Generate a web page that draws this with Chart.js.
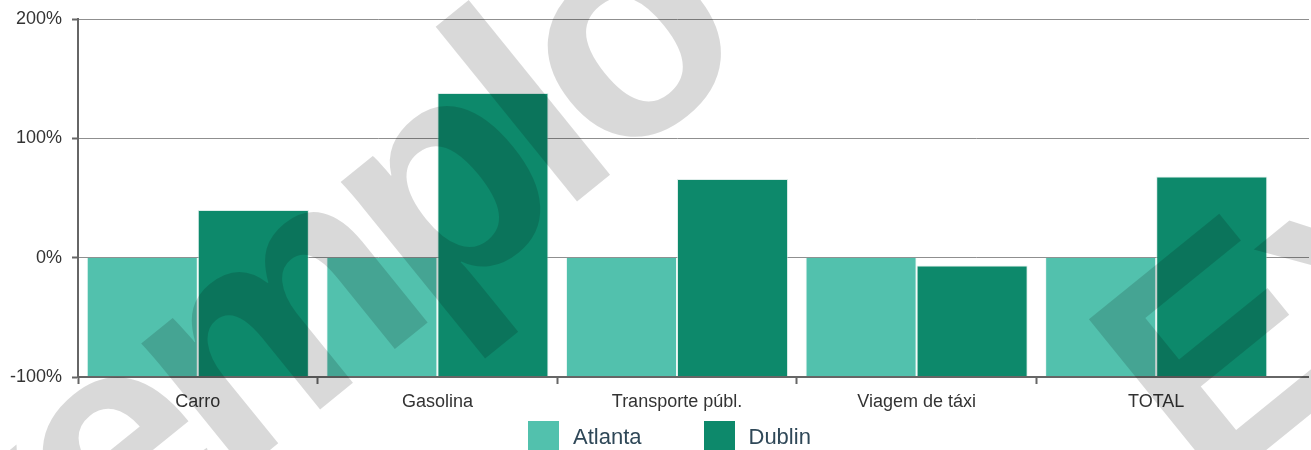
<!DOCTYPE html>
<html>
<head>
<meta charset="utf-8">
<script src="https://cdn.jsdelivr.net/npm/chart.js@4/dist/chart.umd.min.js"></script>
<style>
  html, body { margin: 0; padding: 0; background: #fff; width: 1311px; height: 450px; overflow: hidden; }
  #wrap { position: relative; width: 1311px; height: 450px; }
  #legend { position: absolute; left: 528px; top: 421px; display: flex; font-family: "Liberation Sans", Arial, sans-serif; font-size: 22px; color: #2f4858; }
  .item { display: flex; align-items: center; height: 31px; margin-right: 62px; }
  .box { width: 31px; height: 31px; margin-right: 14px; }
</style>
</head>
<body>
<div id="wrap">
  <canvas id="c"></canvas>
  <div id="legend"></div>
</div>
<script>
const categories = ['Carro', 'Gasolina', 'Transporte públ.', 'Viagem de táxi', 'TOTAL'];
const seriesNames = ['Atlanta', 'Dublin'];
const atlantaValues = [0, 0, 0, 0, 0];
const dublinValues = [40, 138, 66, -6.5, 68];
const yTickValues = [-100, 0, 100, 200];
const colors = ['#52c1ad', '#0d896b'];
const watermarkText = 'Exemplo';

function alignPx(p, w) { const h = w / 2; return Math.round(p - h) + h; }

const extendGrid = {
  id: 'extendGrid',
  beforeDatasetsDraw(chart) {
    const {ctx, chartArea, scales: {y}} = chart;
    ctx.save();
    ctx.strokeStyle = '#8f8f8f';
    ctx.lineWidth = 1;
    y.ticks.forEach(t => {
      if (t.value === y.min) return;
      const py = alignPx(y.getPixelForValue(t.value), 1);
      ctx.beginPath();
      ctx.moveTo(chartArea.right, py);
      ctx.lineTo(chart.width - 2, py);
      ctx.stroke();
    });
    ctx.strokeStyle = '#666';
    ctx.lineWidth = 2;
    const pb = alignPx(y.getPixelForValue(y.min), 2);
    ctx.beginPath();
    ctx.moveTo(chartArea.right, pb);
    ctx.lineTo(chart.width - 2, pb);
    ctx.stroke();
    ctx.restore();
  }
};

const watermark = {
  id: 'watermark',
  afterDraw(chart) {
    const ctx = chart.ctx;
    ctx.save();
    ctx.font = 'bold 310px "Liberation Sans", Arial, sans-serif';
    if ('letterSpacing' in ctx) ctx.letterSpacing = '-19px';
    ctx.fillStyle = 'rgba(0,0,0,0.15)';
    ctx.textBaseline = 'alphabetic';
    ctx.textAlign = 'left';
    const ang = -39 * Math.PI / 180;
    [[-156, 795], [1207, 498]].forEach(([px, py]) => {
      ctx.save();
      ctx.translate(px, py);
      ctx.rotate(ang);
      ctx.fillText(watermarkText, 0, 0);
      ctx.restore();
    });
    ctx.restore();
  }
};

const htmlLegend = {
  id: 'htmlLegend',
  afterUpdate(chart) {
    const el = document.getElementById('legend');
    el.innerHTML = '';
    const items = Chart.defaults.plugins.legend.labels.generateLabels(chart);
    items.forEach(it => {
      const d = document.createElement('div');
      d.className = 'item';
      const b = document.createElement('span');
      b.className = 'box';
      b.style.background = it.fillStyle;
      const t = document.createElement('span');
      t.textContent = it.text;
      d.appendChild(b); d.appendChild(t);
      el.appendChild(d);
    });
  }
};

new Chart(document.getElementById('c'), {
  type: 'bar',
  data: {
    labels: categories,
    datasets: [
      { label: seriesNames[0], data: atlantaValues, backgroundColor: colors[0], base: -100,
        borderColor: 'rgba(230,245,242,0.7)', borderWidth: {left: 1, right: 1, top: 0, bottom: 0} },
      { label: seriesNames[1], data: dublinValues, backgroundColor: colors[1], base: -100,
        borderColor: 'rgba(200,225,220,0.6)', borderWidth: {left: 1, right: 1, top: 1, bottom: 0} }
    ]
  },
  options: {
    responsive: true,
    maintainAspectRatio: false,
    animation: false,
    layout: { padding: { top: 19, right: 35, left: 0, bottom: 33 } },
    plugins: { legend: { display: false }, tooltip: { enabled: false } },
    datasets: { bar: { categoryPercentage: 0.927, barPercentage: 1.0 } },
    scales: {
      x: {
        grid: {
          offset: true, drawOnChartArea: false, drawTicks: true, tickLength: 7,
          tickColor: (c) => c.index === undefined ? 'rgba(0,0,0,0)' : '#666', tickWidth: 2
        },
        border: { display: true, color: '#666', width: 2, z: 1 },
        ticks: { color: '#333', font: { family: '"Liberation Sans", Arial, sans-serif', size: 18 }, padding: 7, maxRotation: 0 },
        afterFit: (s) => { s.height = 40; s.paddingLeft = 0; s.paddingRight = 0; }
      },
      y: {
        min: yTickValues[0],
        max: yTickValues[yTickValues.length - 1],
        afterBuildTicks: (s) => { s.ticks = yTickValues.map(v => ({ value: v })); },
        grid: { color: '#8f8f8f', lineWidth: 1, tickLength: 6, tickColor: '#666', tickWidth: 2 },
        border: { display: true, color: '#666', width: 2, z: 1 },
        ticks: { color: '#333', font: { family: '"Liberation Sans", Arial, sans-serif', size: 18 }, padding: 10,
          callback: (v) => v + '%' },
        afterFit: (s) => { s.width = 78; s.paddingTop = 0; s.paddingBottom = 0; }
      }
    }
  },
  plugins: [extendGrid, watermark, htmlLegend]
});
</script>
</body>
</html>
